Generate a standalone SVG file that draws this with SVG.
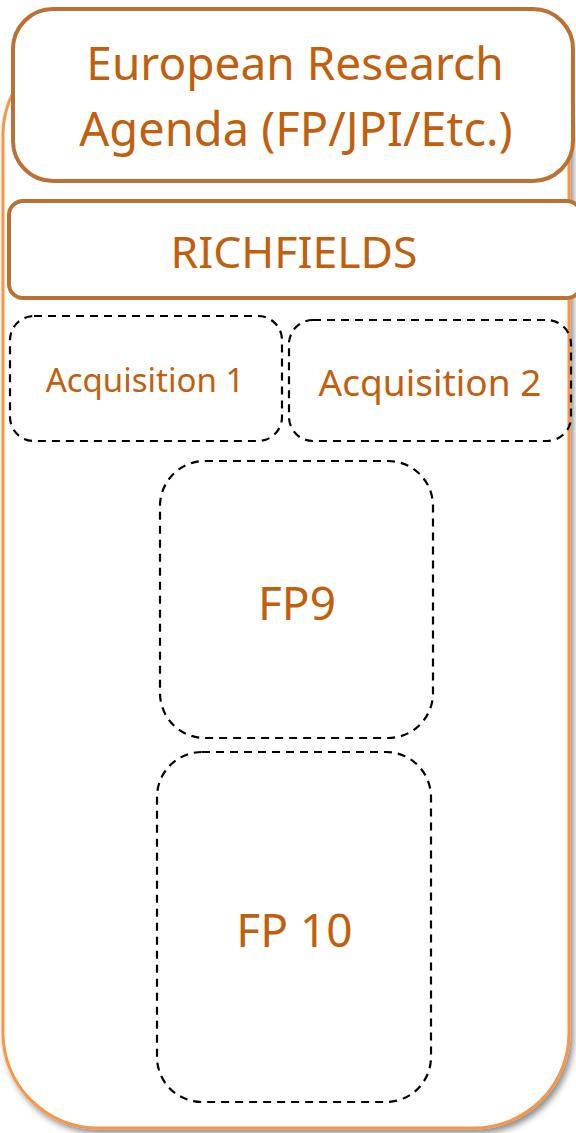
<svg xmlns="http://www.w3.org/2000/svg" width="576" height="1133" viewBox="0 0 576 1133">
<defs>
<filter id="sh" x="-5%" y="-5%" width="115%" height="115%">
<feGaussianBlur in="SourceAlpha" stdDeviation="3"/>
<feOffset dx="3" dy="4" result="b"/>
<feFlood flood-color="#000" flood-opacity="0.45"/>
<feComposite in2="b" operator="in"/>
<feMerge><feMergeNode/><feMergeNode in="SourceGraphic"/></feMerge>
</filter>
</defs>
<style>
.solid{fill:#fff;stroke:#BA7135;stroke-width:4}
.dash{fill:none;stroke:#000;stroke-width:2.2;stroke-dasharray:8 6}
.t{fill:#C0600F;font-family:"Noto Sans","Open Sans","Liberation Sans",sans-serif;text-anchor:middle}
</style>
<g id="outer">
<rect x="3" y="40" width="566" height="1088" rx="95" ry="95" fill="#fff" stroke="#F79646" stroke-width="3" filter="url(#sh)"/>
</g>
<g id="era">
<rect class="solid" x="13" y="9" width="560" height="172" rx="40"/>
<text class="t" x="295" y="80" font-size="46">European Research</text>
<text class="t" x="296" y="146" font-size="47">Agenda (FP/JPI/Etc.)</text>
</g>
<g id="richfields">
<rect class="solid" x="9" y="201" width="572" height="97" rx="14"/>
<text class="t" x="294" y="268" font-size="44.5">RICHFIELDS</text>
</g>
<g id="acq1">
<rect class="dash" x="10" y="316" width="272" height="125" rx="24"/>
<text class="t" x="145" y="392" font-size="33">Acquisition 1</text>
</g>
<g id="acq2">
<rect class="dash" x="289" y="320" width="282" height="121" rx="24"/>
<text class="t" x="430" y="396" font-size="37">Acquisition 2</text>
</g>
<g id="fp9">
<rect class="dash" x="160" y="461" width="273" height="277" rx="45"/>
<text class="t" x="297" y="620" font-size="46">FP9</text>
</g>
<g id="fp10">
<rect class="dash" x="157" y="752" width="274" height="350" rx="45"/>
<text class="t" x="294.5" y="947" font-size="46">FP 10</text>
</g>
<g id="connectors"/>
</svg>
